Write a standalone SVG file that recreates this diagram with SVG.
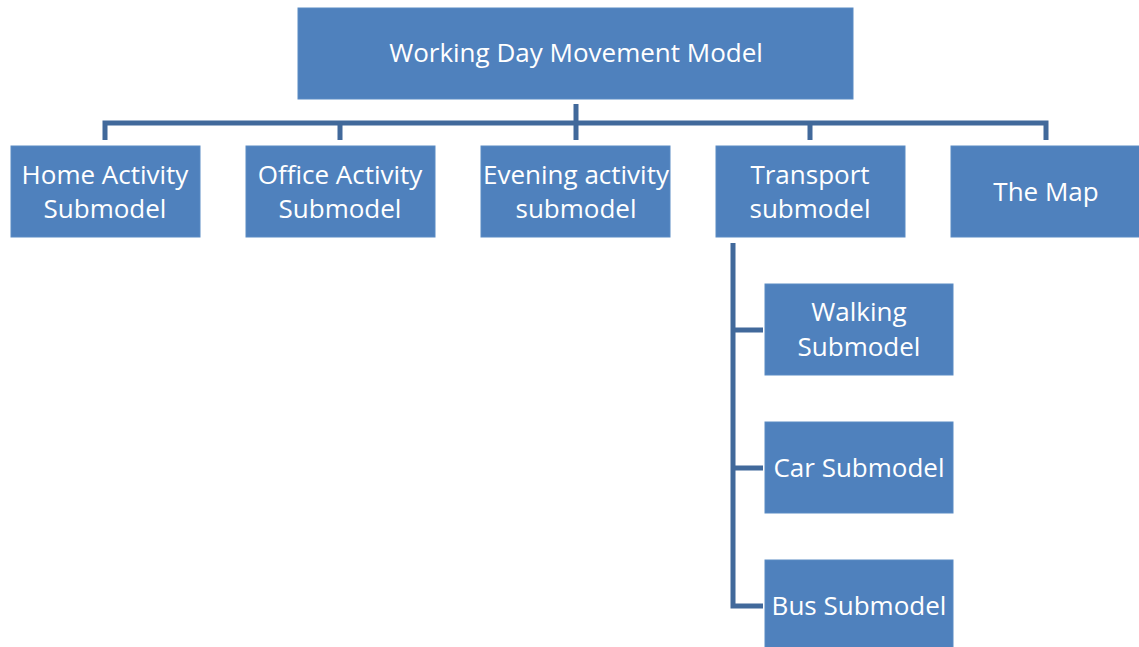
<svg xmlns="http://www.w3.org/2000/svg" width="1139" height="647" viewBox="0 0 1139 647">
<style>
.box{fill:#4F81BD;stroke:#5B8BC4;stroke-width:1}
.t{fill:#FFFFFF;font-family:"Open Sans","Liberation Sans",sans-serif;font-size:26px;text-anchor:middle}
.c{fill:none;stroke:#41699B;stroke-width:5}
</style>
<rect width="1139" height="647" fill="#FFFFFF"/>
<g id="connectors">
<path class="c" d="M576 104V140"/>
<path class="c" d="M105 140V123H1046V140"/>
<path class="c" d="M340 123V140M810 123V140"/>
<path class="c" d="M733 243V606H763M733 330H763M733 468H763"/>
</g>
<g id="root"><rect class="box" x="298" y="8" width="555" height="91"/><text class="t" x="576" y="62">Working Day Movement Model</text></g>
<g id="home"><rect class="box" x="11" y="146" width="189" height="91"/><text class="t" x="105" y="184">Home Activity</text><text class="t" x="105" y="218">Submodel</text></g>
<g id="office"><rect class="box" x="246" y="146" width="189" height="91"/><text class="t" x="340" y="184">Office Activity</text><text class="t" x="340" y="218">Submodel</text></g>
<g id="evening"><rect class="box" x="481" y="146" width="189" height="91"/><text class="t" x="576" y="184">Evening activity</text><text class="t" x="576" y="218">submodel</text></g>
<g id="transport"><rect class="box" x="716" y="146" width="189" height="91"/><text class="t" x="810" y="184">Transport</text><text class="t" x="810" y="218">submodel</text></g>
<g id="map"><rect class="box" x="951" y="146" width="189" height="91"/><text class="t" x="1046" y="201">The Map</text></g>
<g id="walking"><rect class="box" x="765" y="284" width="188" height="91"/><text class="t" x="859" y="321">Walking</text><text class="t" x="859" y="356">Submodel</text></g>
<g id="car"><rect class="box" x="765" y="422" width="188" height="91"/><text class="t" x="859" y="477">Car Submodel</text></g>
<g id="bus"><rect class="box" x="765" y="560" width="188" height="91"/><text class="t" x="859" y="615">Bus Submodel</text></g>
</svg>
